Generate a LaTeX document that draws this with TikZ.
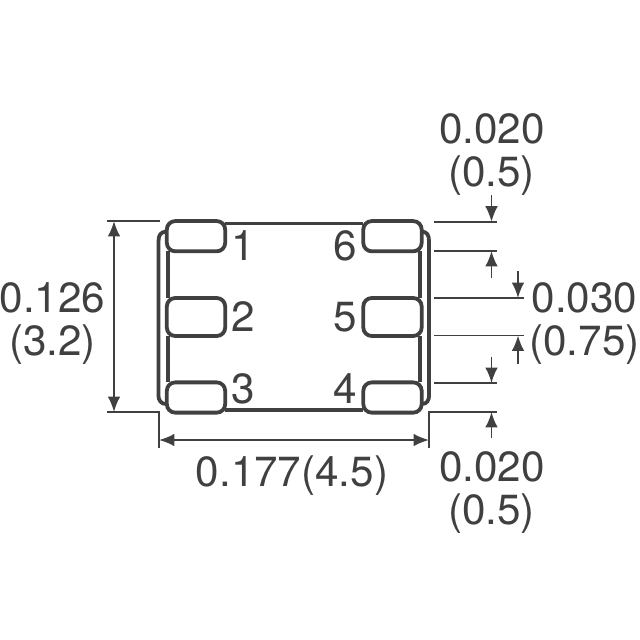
\documentclass[tikz,border=0pt]{standalone}
\usepackage{fontspec}
\setmainfont{TeX Gyre Heros}
\usetikzlibrary{math}
\usetikzlibrary{arrows.meta}
\definecolor{inkgray}{HTML}{404040}
\tikzset{
	pad/.style={draw=inkgray, line width=2.7pt, rounded corners=6pt, minimum width=41.5pt, minimum height=#1, inner sep=0pt, outer sep=0pt},
	pad/.default={21.5pt},
	outline/.style={draw=inkgray, line width=2.7pt},
	extline/.style={draw=inkgray, line width=1.3pt},
	dimarrow/.style={draw=inkgray, line width=1.3pt, -{Latex[length=11pt,width=9pt]}},
	dimboth/.style={draw=inkgray, line width=1.3pt, {Latex[length=11pt,width=9pt]}-{Latex[length=11pt,width=9pt]}},
	dimtext/.style={text=inkgray, font=\fontsize{30}{32}\selectfont, anchor=base, inner sep=0pt},
	pintext/.style={text=inkgray, font=\fontsize{30}{32}\selectfont, anchor=base, inner sep=0pt}
}
\begin{document}
\begin{tikzpicture}[x=0.025cm,y=-0.025cm]
	\useasboundingbox (0,0) rectangle (640,640);
	\tikzmath{\lpx=196; \rpx=392.5; \pya=236.2; \pyb=317; \pyc=397.5;
	\inl=168; \inr=420; \outl=158.5; \outr=429;
	\exa=434; \exb=497; \exc=524; \arx=491.5; \brx=518;
	}
	% pads
	\node[pad] (pa) at (\lpx,\pya) {};
	\node[pad=27pt] (pb) at (\lpx,\pyb) {};
	\node[pad] (pc) at (\lpx,\pyc) {};
	\node[pad] (pf) at (\rpx,\pya) {};
	\node[pad=27pt] (pe) at (\rpx,\pyb) {};
	\node[pad] (pd) at (\rpx,\pyc) {};
	% body
	\draw[outline] (pa.east |- 0,223.5) -- (pf.west |- 0,223.5);
	\draw[outline] (pc.east |- 0,410) -- (pd.west |- 0,410);
	\draw[outline] (\inl,251) -- (\inl,298);
	\draw[outline] (\inl,336) -- (\inl,382);
	\draw[outline] (\inr,251) -- (\inr,298);
	\draw[outline] (\inr,336) -- (\inr,382);
	\draw[outline] (166,231.5) .. controls (161,232) and (\outl,235) .. (\outl,241) -- (\outl,396) .. controls (\outl,400) and (161,404) .. (166,404);
	\draw[outline] (422,231.5) .. controls (427,232) and (\outr,235) .. (\outr,241) -- (\outr,396) .. controls (\outr,400) and (427,404) .. (422,404);
	% extension lines
	\coordinate (hta) at (107,221);
	\coordinate (htb) at (160,221);
	\coordinate (hba) at (107,412);
	\coordinate (hbb) at (159,412);
	\coordinate (wla) at (159,448);
	\coordinate (wra) at (429,448);
	\coordinate (wrb) at (429,412);
	\coordinate (wrc) at (\exb,412);
	\draw[extline] (hta) -- (htb);
	\draw[extline] (hba) -- (hbb) -- (wla);
	\draw[extline] (wra) -- (wrb) -- (wrc);
	\draw[extline] (\exa,221.7) coordinate (ra) -- (\exb,221.7) coordinate (rb);
	\draw[extline] (\exa,251) coordinate (rc) -- (\exb,251) coordinate (rd);
	\draw[extline] (\exa,298) coordinate (re) -- (\exc,298) coordinate (rf);
	\draw[extline] (\exa,335.5) coordinate (rg) -- (\exc,335.5) coordinate (rh);
	\draw[extline] (\exa,383) coordinate (ri) -- (\exb,383) coordinate (rj);
	% dimension arrows
	\draw[dimboth] (114,221) -- (114,412);
	\draw[dimboth] (159,440) -- (429,440);
	\draw[dimarrow] (\arx,195) -- (\arx,221.7);
	\draw[dimarrow] (\arx,278) -- (\arx,251);
	\draw[dimarrow] (\brx,271) -- (\brx,298);
	\draw[dimarrow] (\brx,364) -- (\brx,335.5);
	\draw[dimarrow] (\arx,357) -- (\arx,383);
	\draw[dimarrow] (\arx,438) -- (\arx,412);
	% pin numbers
	\node[pintext] (na) at (243,260) {1};
	\node[pintext] (nb) at (243,331) {2};
	\node[pintext] (nc) at (243,403) {3};
	\node[pintext] (nd) at (345,403) {4};
	\node[pintext] (ne) at (345,331) {5};
	\node[pintext] (nf) at (345,260) {6};
	% dimensions
	\node[dimtext] (ttop) at (492,143) {0.020};
	\node[dimtext] (ttopm) at (491.5,186) {(0.5)};
	\node[dimtext] (tmid) at (584.5,312) {0.030};
	\node[dimtext] (tmidm) at (584.5,355) {(0.75)};
	\node[dimtext] (thgt) at (52.5,312) {0.126};
	\node[dimtext] (thgtm) at (52.5,355) {(3.2)};
	\node[dimtext] (twid) at (292,486) {0.177(4.5)};
	\node[dimtext] (tbot) at (492,481) {0.020};
	\node[dimtext] (tbotm) at (491.5,524) {(0.5)};
\end{tikzpicture}
\end{document}
